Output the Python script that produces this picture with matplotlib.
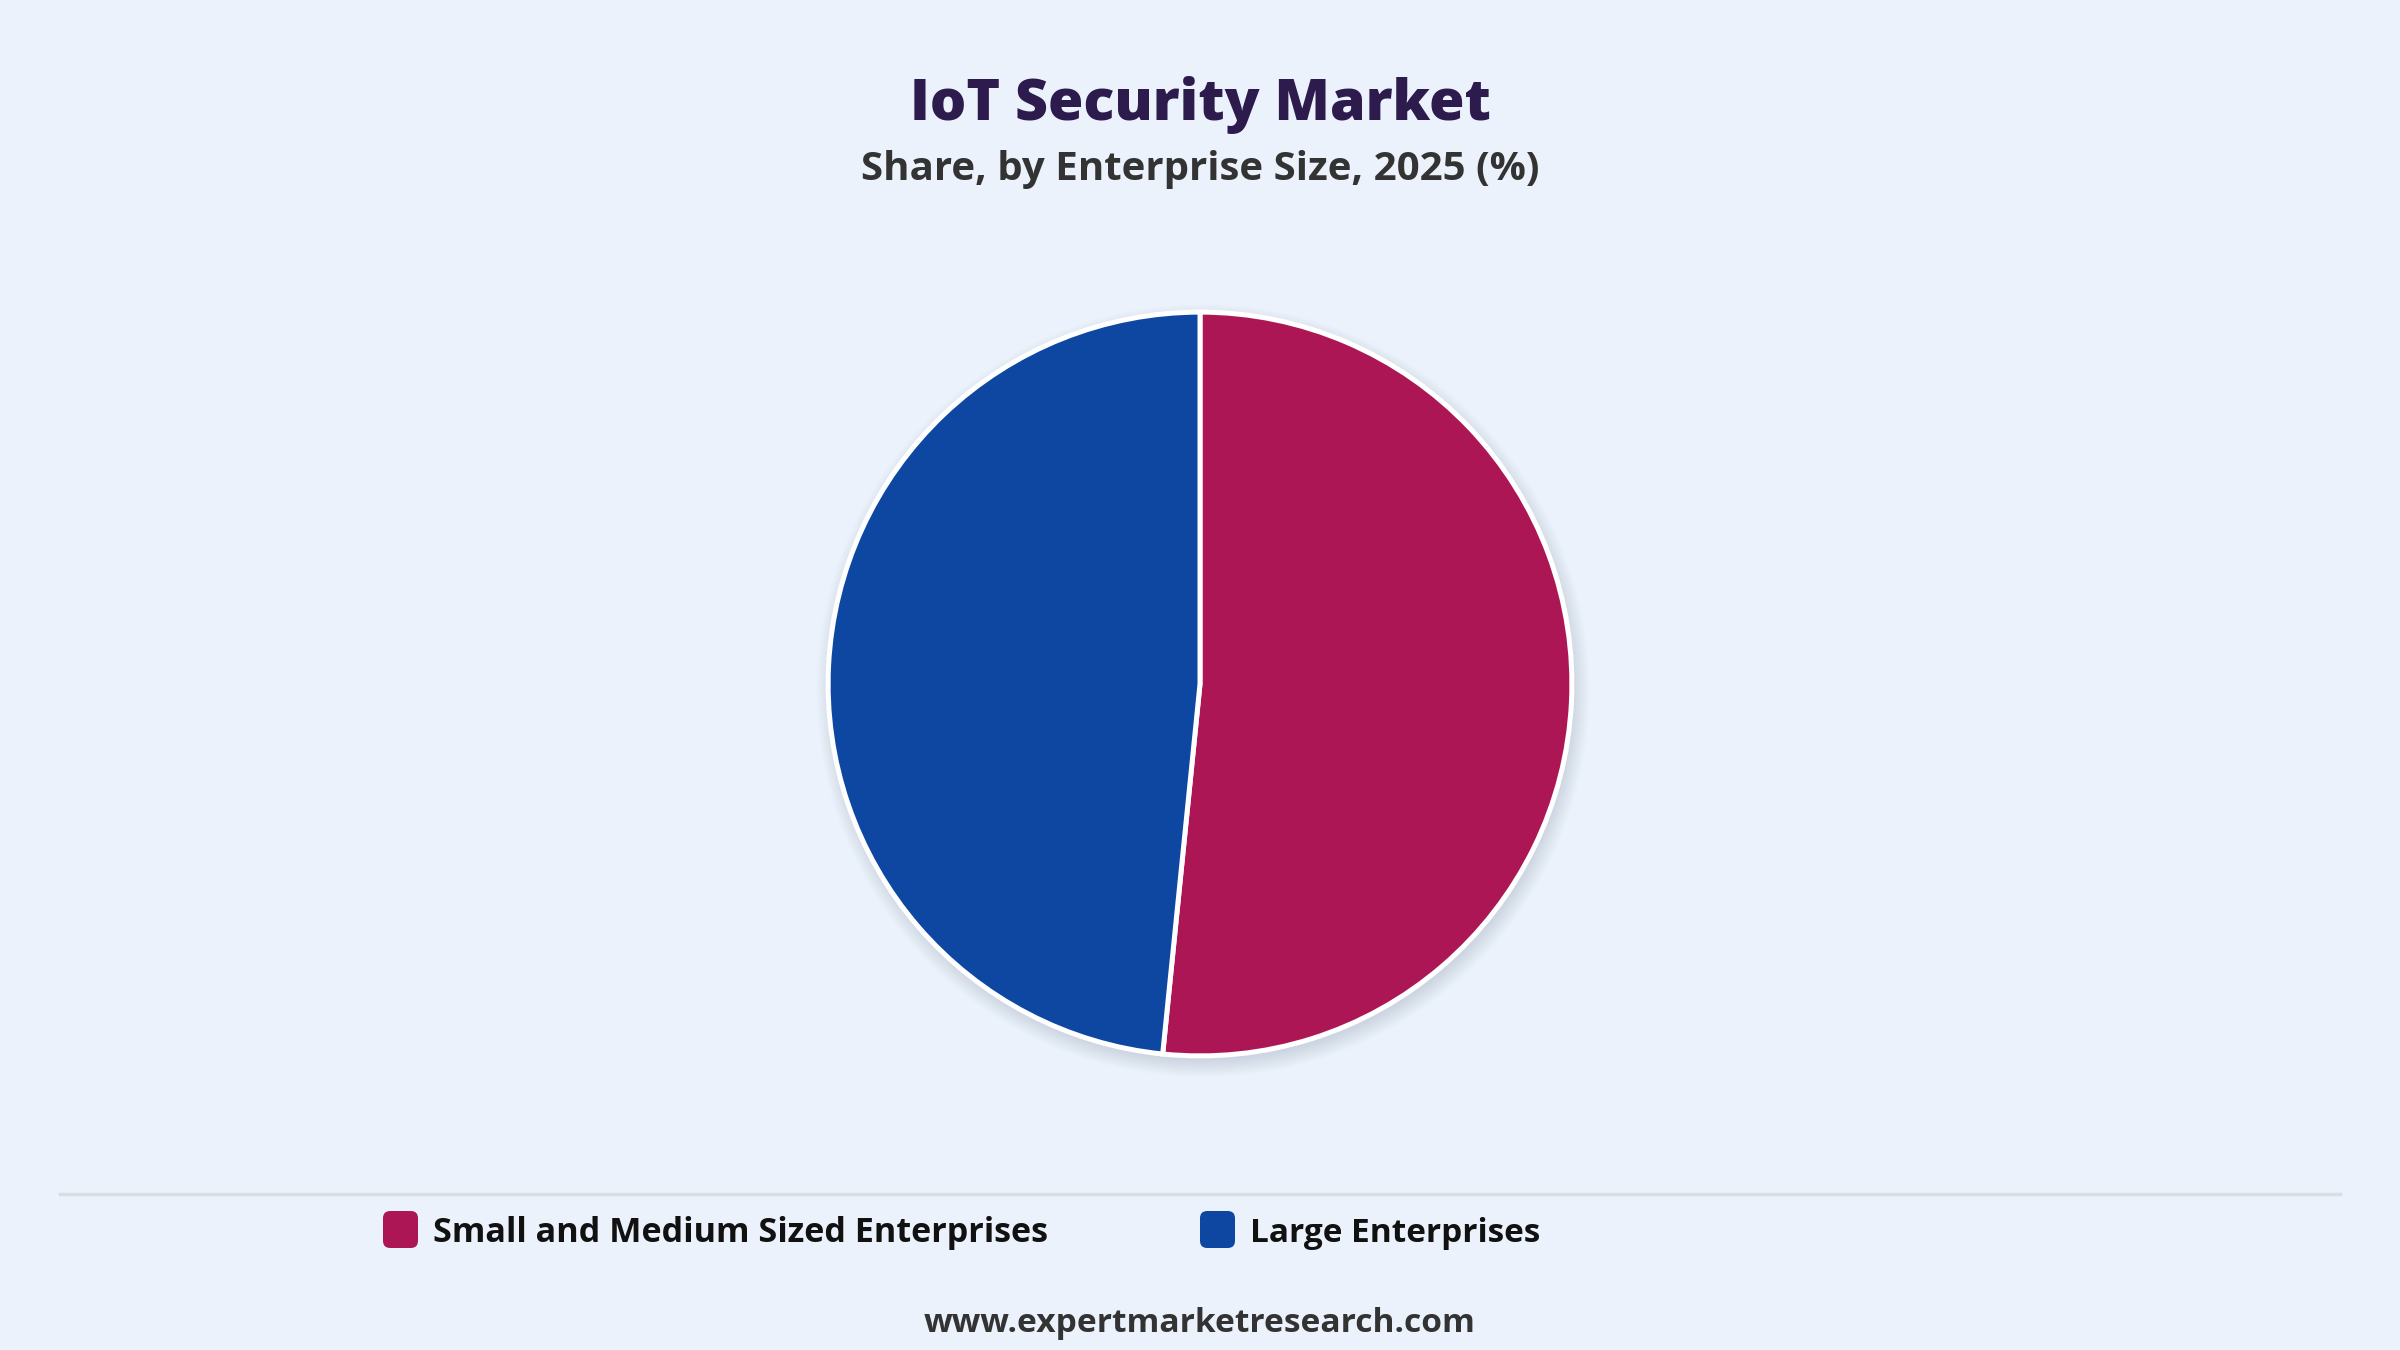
import matplotlib.pyplot as plt
from matplotlib.patches import Circle, FancyBboxPatch

plt.rcParams['font.family'] = ['Open Sans', 'DejaVu Sans']

# data
categories = ['Small and Medium Sized Enterprises', 'Large Enterprises']
shares = [51.6, 48.4]
colors = ['#AD1654', '#0D47A1']

title = 'IoT Security Market'
subtitle = 'Share, by Enterprise Size, 2025 (%)'
source = 'www.expertmarketresearch.com'

W, H = 2400, 1350
BG = '#EBF2FC'

fig = plt.figure(figsize=(24, 13.5), dpi=100, facecolor=BG)


def px(x, y):
    # pixel coords from top-left -> figure fraction
    return x / W, 1 - y / H


def fit_text(t, width_px):
    r = fig.canvas.get_renderer()
    w = t.get_window_extent(r).width
    t.set_fontsize(t.get_fontsize() * width_px / w)


# titles
t1 = fig.text(*px(1200, 120), title, ha='center', va='baseline',
              fontsize=40, fontweight='heavy', color='#2D1B4E')
t2 = fig.text(*px(1200, 180), subtitle, ha='center', va='baseline',
              fontsize=28, fontweight='bold', color='#333333')
fit_text(t1, 581)
fit_text(t2, 678)

# pie
cx, cy, R = 1200, 684, 373
ax = fig.add_axes([(cx - R) / W, (H - cy - R) / H, 2 * R / W, 2 * R / H])
ax.set_xlim(-1, 1)
ax.set_ylim(-1, 1)
ax.set_aspect('equal')
ax.axis('off')

# soft shadow
for i in range(10):
    ax.add_patch(Circle((0.008, -0.018), 0.99 + i * 0.005, color='#8A98AC',
                        alpha=0.03, lw=0, zorder=0, clip_on=False))

ax.pie(shares, colors=colors, startangle=90, counterclock=False, radius=0.997,
       wedgeprops=dict(edgecolor='white', linewidth=3.6, clip_on=False),
       normalize=True)
ax.set_xlim(-1, 1)
ax.set_ylim(-1, 1)

# divider line
fig.add_artist(plt.Line2D([60 / W, 2340 / W], [1 - 1194 / H] * 2,
                          color='#DADDE2', lw=2.5))

# legend
leg_x = [383, 1200]
for x0, lab, col in zip(leg_x, categories, colors):
    box = FancyBboxPatch((x0 / W, 1 - 1248 / H), 35 / W, 37 / H,
                         boxstyle='round,pad=0,rounding_size=0.003',
                         transform=fig.transFigure, fc=col, ec='none',
                         mutation_aspect=W / H)
    fig.add_artist(box)
    fig.text(*px(x0 + 50, 1242), lab, ha='left', va='baseline',
             fontsize=22, fontweight='bold', color='#111111')
fit_text(fig.texts[-2], 614)
fit_text(fig.texts[-1], 289)

t3 = fig.text(*px(1200, 1332), source, ha='center', va='baseline',
              fontsize=22, fontweight='bold', color='#333333')
fit_text(t3, 549)

fig.savefig('out.png', dpi=100, facecolor=BG)
